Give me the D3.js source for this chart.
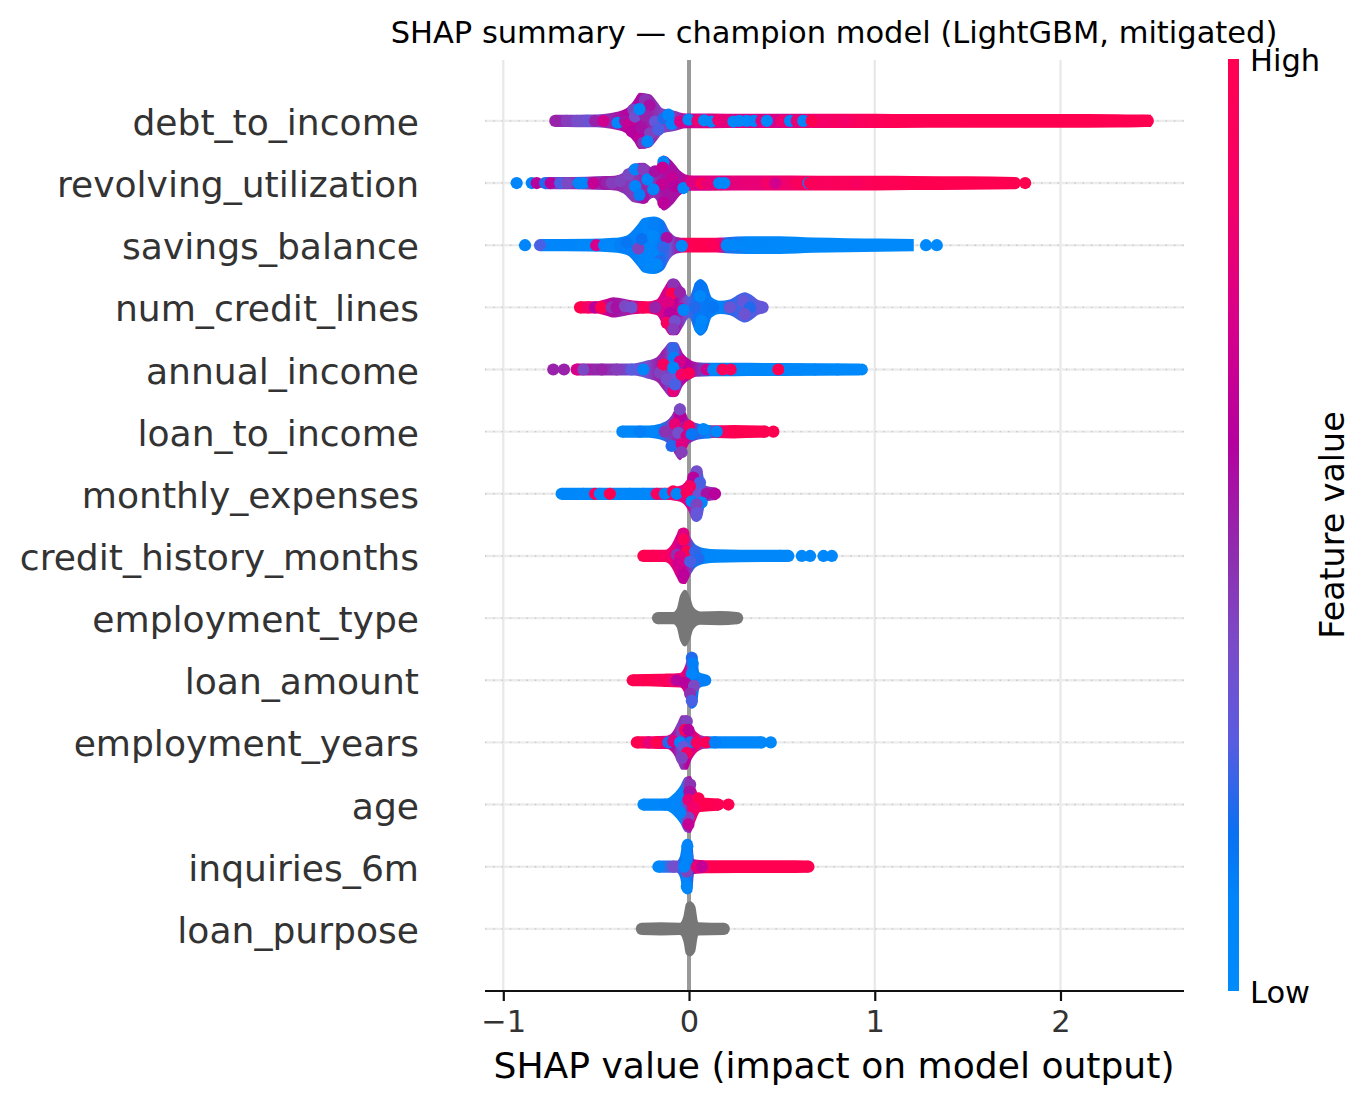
<!DOCTYPE html>
<html>
<head>
<meta charset="utf-8">
<title>SHAP summary</title>
<script src="https://cdn.jsdelivr.net/npm/d3@7"></script>
<style>
  html, body { margin: 0; padding: 0; background: #fff; }
  svg { display: block; }
  text { font-family: "DejaVu Sans", sans-serif; }
</style>
</head>
<body>
<div id="chart"></div>
<script>
// Feature names, top row first.
const features = ["debt_to_income","revolving_utilization","savings_balance","num_credit_lines",
  "annual_income","loan_to_income","monthly_expenses","credit_history_months","employment_type",
  "loan_amount","employment_years","age","inquiries_6m","loan_purpose"];
const xTicks = [-1, 0, 1, 2];

// Envelope of each swarm: [SHAP value, pile half-height in rows, mean feature value].
// Categorical features have no feature value and hold null.
const debtEnvelope = [[-.72,0,.5],[-.6,.002,.36],[-.5,.005,.36],[-.42,.03,.5],[-.34,.1,.6],[-.3,.22,.58],[-.265,.355,.55],[-.21,.33,.5],[-.175,.22,.45],[-.14,.1,.4],[-.085,.07,.4],[-.013,.02,.65],[.05,.02,.7],[.2,.016,.76],[.4,.016,.72],[.6,.016,.75],[.7,.016,.85],[.9,.016,.92],[1.1,.014,.98],[1.5,.012,1],[2,.012,1],[2.3,.008,1],[2.42,.003,1],[2.488,0,1]];
const revolvingEnvelope = [[-.775,0,.3],[-.7,.001,.45],[-.55,.005,.45],[-.45,.015,.5],[-.4,.02,.5],[-.353,.07,.45],[-.3,.21,.42],[-.245,.23,.5],[-.19,.14,.45],[-.138,.345,.55],[-.084,.23,.55],[-.048,.1,.55],[.006,.025,.7],[.1,.025,.75],[.4,.022,.8],[.7,.02,.92],[1,.02,.97],[1.2,.015,1],[1.5,.01,1],[1.755,0,1]];
const savingsEnvelope = [[-.802,0,.08],[-.533,.005,.07],[-.407,.02,.08],[-.335,.06,.12],[-.281,.22,.12],[-.245,.34,.1],[-.19,.365,.1],[-.138,.3,.15],[-.102,.115,.3],[-.066,.035,.5],[-.02,.02,.9],[.024,.02,1],[.13,.02,.97],[.167,.025,.8],[.2,.03,.2],[.311,.045,.07],[.49,.045,.04],[.67,.025,.03],[.85,.015,.03],[1.03,.008,.03],[1.21,0,.03]];
const creditLinesEnvelope = [[-.587,0,.95],[-.5,.001,.85],[-.44,.04,.65],[-.408,.065,.55],[-.35,.04,.5],[-.3,.012,.7],[-.228,0,.95],[-.174,.03,.75],[-.138,.2,.7],[-.1,.35,.7],[-.067,.35,.6],[-.03,.2,.4],[0,.07,.25],[.032,.28,.15],[.059,.36,.13],[.095,.28,.15],[.122,.065,.12],[.167,.01,.1],[.22,.03,.2],[.274,.12,.25],[.3,.145,.25],[.337,.1,.25],[.373,.02,.3],[.4,0,.3]];
const incomeEnvelope = [[-.605,0,.65],[-.5,0,.47],[-.4,0,.45],[-.3,0,.3],[-.228,.045,.35],[-.174,.1,.5],[-.138,.23,.5],[-.1,.345,.3],[-.067,.34,.3],[-.03,.15,.6],[0,.07,.6],[.041,.02,.5],[.12,.01,.12],[.238,.01,.08],[.5,.006,.05],[.92,0,.04]];
const loanIncomeEnvelope = [[-.359,0,.05],[-.228,0,.1],[-.156,.03,.12],[-.094,.16,.45],[-.076,.265,.5],[-.049,.36,.5],[-.022,.24,.55],[0,.1,.5],[.059,.025,.2],[.11,.01,.1],[.14,.005,.85],[.24,.01,1],[.38,0,1],[.409,0,1]];
const expensesEnvelope = [[-.686,0,.05],[-.4,0,.05],[-.2,0,.1],[-.12,0,.85],[-.049,.03,.8],[-.004,.17,.7],[.02,.33,.3],[.041,.355,.3],[.068,.3,.25],[.091,.03,.4],[.149,0,.55]];
const historyEnvelope = [[-.246,0,1],[-.129,0,.92],[-.093,.09,.8],[-.066,.25,.7],[-.048,.34,.65],[-.021,.355,.65],[.006,.215,.45],[.033,.09,.15],[.078,.03,.08],[.15,.01,.05],[.49,0,.05],[.535,0,.05]];
const employmentTypeEnvelope = [[-.167,0,null],[-.084,0,null],[-.066,.055,null],[-.048,.265,null],[-.021,.36,null],[.006,.24,null],[.024,.08,null],[.06,.01,null],[.167,.015,null],[.259,0,null]];
const loanAmountEnvelope = [[-.303,0,1],[-.15,.005,1],[-.12,.01,.95],[-.048,.02,.85],[-.021,.14,.7],[-.003,.33,.25],[.015,.36,.18],[.042,.3,.15],[.056,.03,.1],[.087,0,.12]];
const employmentYearsEnvelope = [[-.281,0,1],[-.2,.002,.85],[-.12,.01,.75],[-.084,.09,.55],[-.062,.22,.4],[-.039,.34,.45],[-.012,.34,.6],[.015,.17,.65],[.042,.06,.8],[.085,.002,.4],[.11,0,.08],[.39,0,.05]];
const ageEnvelope = [[-.245,0,.05],[-.12,0,.05],[-.084,.07,.06],[-.048,.2,.1],[-.021,.34,.4],[.006,.36,.55],[.033,.18,.8],[.06,.02,1],[.16,0,1]];
const inquiriesEnvelope = [[-.165,0,.05],[-.066,0,.35],[-.048,.08,.15],[-.033,.31,.08],[-.009,.35,.08],[.017,.31,.15],[.027,.02,.6],[.06,.01,.8],[.12,.006,1],[.5,.004,1],[.643,0,1]];
const loanPurposeEnvelope = [[-.254,0,null],[-.15,.008,null],[-.048,.002,null],[-.03,.11,null],[-.016,.31,null],[.006,.345,null],[.033,.27,null],[.05,.01,null],[.187,0,null]];

// Individual observations: [SHAP value, offset within the pile in rows, feature value].
const debtDots = [[-.72,0,.5],[-.658,0,.42],[-.604,0,.36],[-.55,0,.33],[-.506,0,.5],[-.461,0,.68],[-.385,-.03,.08],[-.344,0,.55],[-.326,-.06,.65],[-.3,.18,.4],[-.273,-.22,.62],[-.308,-.17,.6],[-.237,.34,.45],[-.213,.25,.55],[-.291,.07,.35],[-.237,.09,.5],[-.267,.19,.05],[-.255,-.12,.55],[-.21,-.2,.4],[-.183,-.01,.3],[-.165,-.14,.25],[-.246,-.35,.45],[-.224,-.33,.08],[-.138,.04,.2],[-.111,.1,.1],[-.093,-.05,.08],[-.048,-.01,.72],[-.003,.02,.05],[.045,0,.8],[.081,.01,.05],[.12,-.01,.07],[.158,.01,.82],[.19,0,.78],[.239,-.01,.06],[.27,0,.06],[.311,0,.07],[.35,0,.08],[.39,0,.75],[.419,0,.05],[.5,0,.82],[.544,0,.1],[.58,0,.8],[.615,0,.08],[.66,0,1],[.84,0,.85],[2.44,0,1],[2.47,0,1]];
const revolvingDots = [[-.928,0,.08],[-.847,0,.08],[-.82,0,.6],[-.775,0,.2],[-.745,0,.6],[-.694,0,.25],[-.655,0,.38],[-.595,0,.08],[-.569,0,.1],[-.515,0,.65],[-.457,0,.55],[-.443,0,.5],[-.416,0,.42],[-.371,.03,.4],[-.326,.14,.38],[-.29,.22,.1],[-.246,.22,.42],[-.224,.06,.1],[-.29,-.05,.08],[-.246,-.24,.55],[-.267,-.19,.12],[-.183,.19,.55],[-.138,.34,.1],[-.142,.25,.65],[-.147,-.02,.65],[-.192,-.1,.1],[-.093,.09,.65],[-.075,-.05,.6],[-.138,-.32,.62],[-.03,-.08,.05],[.015,.02,.75],[.068,0,.95],[.096,0,.8],[.162,0,.05],[.19,0,.07],[.266,0,.78],[.311,0,.8],[.419,0,.85],[.464,0,.7],[.58,0,.92],[.643,0,.05],[.65,0,.95],[.903,0,.9],[1.755,0,1],[1.81,0,1]];
const savingsDots = [[-.883,0,.08],[-.802,0,.25],[-.5,0,.72],[-.457,0,.08],[-.425,0,.05],[-.416,0,.05],[-.371,0,.12],[-.335,.04,.15],[-.273,-.05,.4],[-.255,.1,.17],[-.192,.34,.12],[-.195,.15,.06],[-.12,.12,.55],[-.138,-.04,.22],[-.192,-.14,.08],[-.246,-.25,.08],[-.156,-.25,.2],[-.21,-.31,.05],[-.174,-.31,.05],[-.039,-.01,.05],[.078,0,1],[.13,0,.95],[.203,0,.05],[.239,0,.05],[.293,0,.05],[1.276,0,.03],[1.334,0,.03]];
const creditLinesDots = [[-.587,0,1],[-.542,0,.85],[-.506,0,.6],[-.474,0,1],[-.417,0,.45],[-.39,0,.55],[-.345,.02,.38],[-.309,0,.35],[-.246,0,.95],[-.183,0,.5],[-.085,.37,.45],[-.094,.22,1],[-.049,.24,.5],[-.112,.08,.75],[-.103,-.09,.6],[-.12,-.25,.9],[-.076,-.22,.35],[-.085,-.35,.42],[-.04,-.03,.7],[.059,.34,.15],[.059,.18,.05],[.032,0,.2],[-.03,-.04,.1],[.068,-.22,.05],[.059,-.33,.08],[.13,0,.15],[.22,0,.32],[.292,.1,.3],[.328,0,.2],[.301,-.11,.33],[.396,0,.3]];
const incomeDots = [[-.731,0,.5],[-.673,0,.5],[-.605,0,.72],[-.569,0,.38],[-.47,0,.5],[-.39,0,.42],[-.309,0,.27],[-.246,0,.08],[-.156,-.05,.4],[-.085,.34,.22],[-.081,.19,.12],[-.138,.08,.9],[-.049,.13,.7],[-.085,.03,.1],[-.12,-.16,.35],[-.085,-.35,.78],[-.076,-.24,.25],[-.04,-.08,.85],[-.001,-.06,.95],[.095,0,.7],[.13,0,.05],[.181,0,.95],[.224,0,.92],[.301,0,.05],[.36,0,.05],[.481,0,1],[.544,0,.05],[.6,0,.05],[.678,0,.05],[.8,0,.04],[.93,0,.03]];
const loanIncomeDots = [[-.359,0,.05],[-.264,0,.12],[-.201,0,.08],[-.13,0,.45],[-.049,.25,.6],[-.049,.36,.38],[-.076,.12,.8],[-.058,-.02,.35],[0,.09,.9],[-.013,-.07,.7],[.014,-.04,.15],[.077,.04,.06],[.149,0,.06],[-.094,-.23,.2],[-.04,-.2,.75],[-.04,-.33,.42],[.25,0,1],[.409,0,1],[.454,0,1]];
const expensesDots = [[-.686,0,.05],[-.569,0,.05],[-.506,0,.95],[-.48,0,.05],[-.426,0,1],[-.318,0,.05],[-.246,0,.05],[-.174,0,.9],[-.13,0,.05],[-.085,.04,.95],[-.067,0,.08],[-.013,.02,.95],[.041,.36,.35],[.023,.26,.6],[.059,.18,.25],[.005,.12,.9],[.059,0,.3],[.095,0,.55],[.14,0,.6],[.014,-.12,.1],[.068,-.14,.1],[.041,-.17,.4],[.041,-.31,.3]];
const historyDots = [[-.246,0,1],[-.192,0,.97],[-.03,.36,.75],[-.03,.26,.95],[-.066,.02,.45],[-.012,.07,1],[-.048,-.01,.75],[.033,.07,.22],[.051,-.04,.2],[-.057,-.12,.7],[.006,-.09,.25],[-.03,-.31,.62],[.114,0,.07],[.49,0,.05],[.535,0,.05],[.607,0,.05],[.652,0,.05],[.724,0,.05],[.769,0,.05]];
const employmentTypeDots = [[-.167,0,null],[.259,0,null]];
const loanAmountDots = [[-.303,0,1],[-.246,0,1],[-.165,0,.95],[-.093,0,.85],[-.066,0,.6],[.015,.36,.2],[.02,.27,.12],[.015,.1,.08],[-.021,-.04,.6],[.027,-.09,.38],[.006,-.22,.45],[.015,-.33,.25],[.087,0,.12]];
const employmentYearsDots = [[-.281,0,1],[-.219,0,.8],[-.174,0,1],[-.111,0,.2],[-.084,.02,.75],[-.012,.34,.4],[-.021,.2,1],[-.003,.2,.6],[-.048,0,.08],[.006,0,.2],[-.03,-.07,.3],[.042,0,.9],[-.012,-.17,.9],[-.039,-.25,.4],[.095,0,.95],[.14,0,.12],[.39,0,.05],[.44,0,.05]];
const ageDots = [[-.245,0,.05],[-.129,0,.1],[-.03,.16,.08],[.006,.32,.45],[.002,.21,.55],[-.003,.08,.8],[.051,.1,1],[.024,-.05,.85],[-.003,-.21,.4],[-.003,-.32,.65],[-.048,-.13,.08],[.158,0,.97],[.212,0,1]];
const inquiriesDots = [[-.165,0,.05],[-.084,0,.35],[-.009,.33,.08],[-.009,.17,.08],[-.012,-.08,.4],[-.012,-.32,.05],[-.027,0,.1],[.042,0,.8],[.069,0,.65],[.643,0,1]];
const loanPurposeDots = [[-.254,0,null],[.187,0,null]];

const envelopes = [debtEnvelope, revolvingEnvelope, savingsEnvelope, creditLinesEnvelope, incomeEnvelope,
  loanIncomeEnvelope, expensesEnvelope, historyEnvelope, employmentTypeEnvelope, loanAmountEnvelope,
  employmentYearsEnvelope, ageEnvelope, inquiriesEnvelope, loanPurposeEnvelope];
const dots = [debtDots, revolvingDots, savingsDots, creditLinesDots, incomeDots, loanIncomeDots, expensesDots,
  historyDots, employmentTypeDots, loanAmountDots, employmentYearsDots, ageDots, inquiriesDots, loanPurposeDots];

// Colour ramp shared by the marks and the colour bar.
const rampStops = [0, .1, .17, .27, .37, .47, .59, .72, .85, 1];
const rampColors = ["#008bfb", "#0085fa", "#0a70f2", "#5a5ce0", "#7a4cc8", "#8f2dae", "#b5009e", "#d8008a", "#f50068", "#ff0051"];
const missingColor = "#777777";
const color = d3.scaleLinear().domain(rampStops).range(rampColors).interpolate(d3.interpolateRgb);
const valueColor = v => v === null ? missingColor : color(v);

const width = 1372, height = 1105, dotRadius = 6.1;
const x = d3.scaleLinear().domain([-1.0985, 2.665]).range([485, 1184]);
const y = d3.scaleLinear().domain([-1, 13.98]).range([991, 60]);
const rowPos = i => features.length - 1 - i;

const svg = d3.select("#chart").append("svg").attr("width", width).attr("height", height);
const defs = svg.append("defs");

// Vertical grid and the zero reference line.
svg.append("g").selectAll("line").data(xTicks.filter(t => t !== 0)).join("line")
  .attr("x1", d => x(d)).attr("x2", d => x(d)).attr("y1", 60).attr("y2", 990)
  .attr("stroke", "#e8e8e8").attr("stroke-width", 2.2);

// Dotted guide for every feature row.
const guides = svg.append("g");
guides.selectAll("line.band").data(features).join("line").attr("class", "band")
  .attr("x1", 485).attr("x2", 1184)
  .attr("y1", (d, i) => y(rowPos(i))).attr("y2", (d, i) => y(rowPos(i)))
  .attr("stroke", "#ececec").attr("stroke-width", 2.4);
guides.selectAll("line.dot").data(features).join("line").attr("class", "dot")
  .attr("x1", 485).attr("x2", 1184)
  .attr("y1", (d, i) => y(rowPos(i))).attr("y2", (d, i) => y(rowPos(i)))
  .attr("stroke", "#c8c8c8").attr("stroke-width", 1.4).attr("stroke-dasharray", "1.4 6.9");

svg.append("line").attr("x1", x(0)).attr("x2", x(0)).attr("y1", 60).attr("y2", 990)
  .attr("stroke", "#999999").attr("stroke-width", 4);

// Swarms: a filled envelope tinted by feature value, then single observations on top.
const swarm = svg.append("g");
features.forEach((name, i) => {
  const env = envelopes[i], cy = rowPos(i);
  const gid = "env-" + i;
  const x0 = x(env[0][0]), x1 = x(env[env.length - 1][0]);
  const grad = defs.append("linearGradient").attr("id", gid)
    .attr("gradientUnits", "userSpaceOnUse").attr("x1", x0).attr("x2", x1).attr("y1", 0).attr("y2", 0);
  env.forEach(d => grad.append("stop")
    .attr("offset", (x(d[0]) - x0) / (x1 - x0))
    .attr("stop-color", valueColor(d[2])));
  const area = d3.area().curve(d3.curveMonotoneX)
    .x(d => x(d[0]))
    .y0(d => y(cy + d[1]) - dotRadius)
    .y1(d => y(cy - d[1]) + dotRadius);
  swarm.append("path").attr("d", area(env)).attr("fill", `url(#${gid})`);
  swarm.append("g").selectAll("circle").data(dots[i]).join("circle")
    .attr("cx", d => x(d[0])).attr("cy", d => y(cy + d[1])).attr("r", dotRadius)
    .attr("fill", d => valueColor(d[2]));
});

// Feature labels.
svg.append("g").selectAll("text").data(features).join("text")
  .attr("x", 419).attr("y", (d, i) => y(rowPos(i)) + 1)
  .attr("dy", "0.36em")
  .attr("text-anchor", "end").attr("font-size", 36.1).attr("fill", "#333333")
  .text(d => d);

// Bottom axis.
const axis = svg.append("g").attr("transform", "translate(0,991)")
  .call(d3.axisBottom(x).tickValues(xTicks).tickFormat(d3.format("d")).tickSize(10).tickPadding(9));
axis.select(".domain").attr("stroke", "#111").attr("stroke-width", 2.2).attr("d", "M485,0H1184");
axis.selectAll(".tick line").attr("stroke", "#111").attr("stroke-width", 2.2);
axis.selectAll(".tick text").attr("font-size", 30.5).attr("fill", "#333333")
  .attr("font-family", "DejaVu Sans, sans-serif");

svg.append("text").attr("x", 834).attr("y", 1078).attr("text-anchor", "middle")
  .attr("font-size", 36.1).attr("fill", "#000").text("SHAP value (impact on model output)");
svg.append("text").attr("x", 834).attr("y", 43).attr("text-anchor", "middle")
  .attr("font-size", 30.5).attr("fill", "#000").text("SHAP summary — champion model (LightGBM, mitigated)");

// Colour bar.
const barScale = d3.scaleLinear().domain([0, 1]).range([991, 59]);
const barGrad = defs.append("linearGradient").attr("id", "bar").attr("x1", 0).attr("x2", 0).attr("y1", 1).attr("y2", 0);
rampStops.forEach((s, k) => barGrad.append("stop").attr("offset", s).attr("stop-color", rampColors[k]));
svg.append("rect").attr("x", 1228).attr("width", 11).attr("y", barScale(1))
  .attr("height", barScale(0) - barScale(1)).attr("fill", "url(#bar)");
svg.append("text").attr("x", 1250).attr("y", 71).attr("font-size", 30.5).text("High");
svg.append("text").attr("x", 1250).attr("y", 1003).attr("font-size", 30.5).text("Low");
svg.append("text").attr("transform", "translate(1344,525) rotate(-90)").attr("text-anchor", "middle")
  .attr("font-size", 33.3).text("Feature value");
</script>
</body>
</html>
